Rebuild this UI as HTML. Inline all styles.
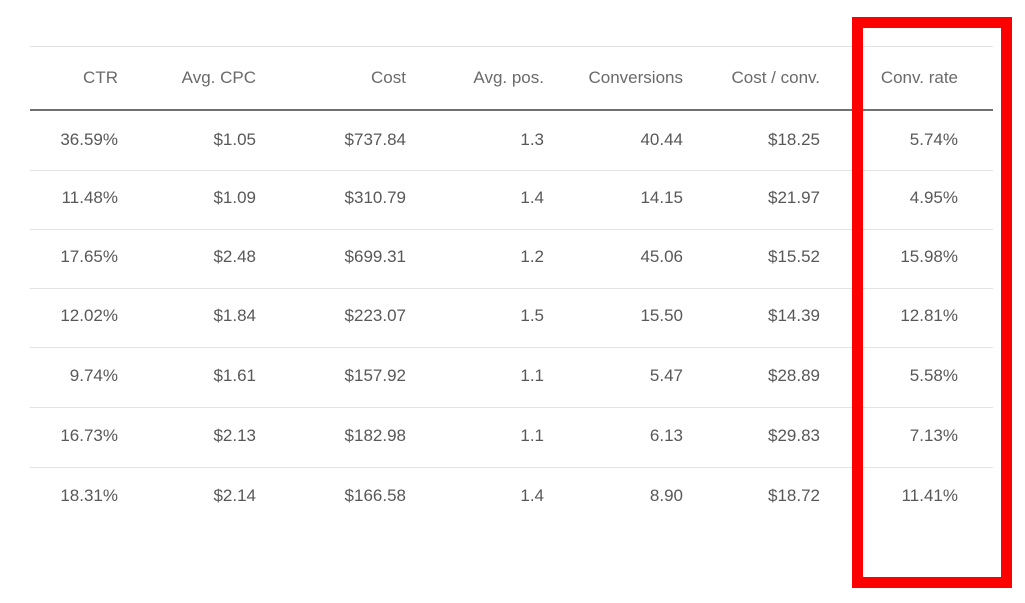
<!DOCTYPE html>
<html><head><style>
body{margin:0;width:1025px;height:603px;background:#fff;position:relative;overflow:hidden;font-family:"Liberation Sans",sans-serif;}
.l{position:absolute;left:30px;width:963px;height:1px;background:#e3e3e3;}
.t{position:absolute;font-size:17px;color:#585858;text-align:right;width:160px;line-height:20px;}
.h{color:#6a6a6a;}
</style></head><body>
<div class="l" style="top:46px"></div>
<div class="l" style="top:109px;height:2px;background:#707070"></div>
<div class="l" style="top:170px"></div>
<div class="l" style="top:229px"></div>
<div class="l" style="top:288px"></div>
<div class="l" style="top:347px"></div>
<div class="l" style="top:407px"></div>
<div class="l" style="top:467px"></div>
<div style="position:absolute;left:852px;top:17px;width:138px;height:549px;border:11px solid #f00;"></div>
<div id="c"></div>
<script>
var R=[118,256,406,544,683,820,958];
var rows=[["CTR","Avg. CPC","Cost","Avg. pos.","Conversions","Cost / conv.","Conv. rate"],
["36.59%","$1.05","$737.84","1.3","40.44","$18.25","5.74%"],
["11.48%","$1.09","$310.79","1.4","14.15","$21.97","4.95%"],
["17.65%","$2.48","$699.31","1.2","45.06","$15.52","15.98%"],
["12.02%","$1.84","$223.07","1.5","15.50","$14.39","12.81%"],
["9.74%","$1.61","$157.92","1.1","5.47","$28.89","5.58%"],
["16.73%","$2.13","$182.98","1.1","6.13","$29.83","7.13%"],
["18.31%","$2.14","$166.58","1.4","8.90","$18.72","11.41%"]];
var Y=[78,140,198,257,316,376,436,496],h="";
rows.forEach(function(r,i){r.forEach(function(v,j){
h+='<div class="t'+(i==0?' h':'')+'" style="left:'+(R[j]-160)+'px;top:'+(Y[i]-10)+'px">'+v+'</div>';});});
document.getElementById("c").innerHTML=h;
</script>
</body></html>
